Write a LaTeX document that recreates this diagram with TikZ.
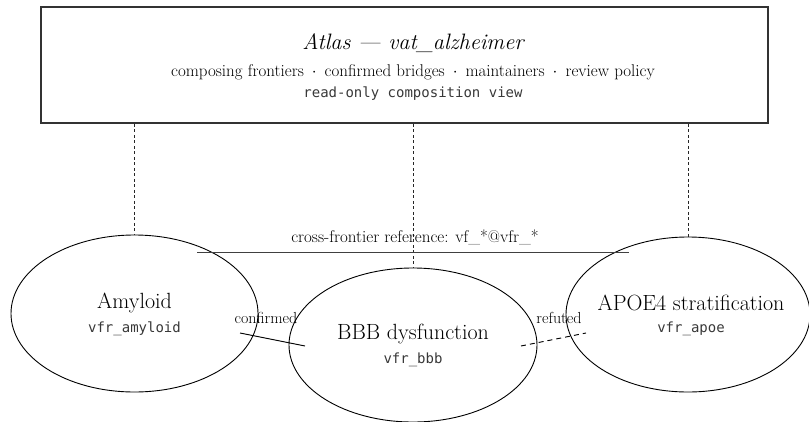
\documentclass[tikz,border=0pt]{standalone}
\usepackage{fontspec}
\setmonofont{DejaVu Sans Mono}
\usetikzlibrary{shapes.geometric}
\begin{document}
\begin{tikzpicture}[x=1pt,y=-1pt,
  frontier/.style={draw,ellipse,line width=0.9pt,inner sep=0pt},
  dashlink/.style={line width=0.7pt,dash pattern=on 3pt off 2.5pt,black!85},
  bridge/.style={line width=0.9pt},
  lbl/.style={font=\fontsize{16}{19}\selectfont,inner sep=0pt},
  ftitle/.style={inner sep=0pt,font=\fontsize{22}{26}\selectfont},
  code/.style={inner sep=0pt,font=\fontsize{14}{16}\ttfamily,text=black!78}]
\useasboundingbox (0,0) rectangle (809,421);
% header box
\node[draw=black!80,line width=1.6pt,minimum width=727pt,minimum height=116pt,inner sep=0pt] (atlas) at (404.5,65) {};
\node[inner sep=0pt,font=\fontsize{22.3}{26}\selectfont\itshape] (title) at (413,43) {Atlas --- vat\_alzheimer};
\node[inner sep=0pt,font=\fontsize{17}{20}\selectfont] (sub) at (413,72) {composing frontiers \,$\cdot$\, confirmed bridges \,$\cdot$\, maintainers \,$\cdot$\, review policy};
\node[code] (mode) at (413,94) {read-only composition view};
% frontiers
\node[frontier,minimum width=247pt,minimum height=157pt] (amy) at (134.5,313.5) {};
\node[frontier,minimum width=248pt,minimum height=154pt] (bbb) at (413,345) {};
\node[frontier,minimum width=244pt,minimum height=155pt] (apoe) at (688,314.5) {};
\node[ftitle] at (134.5,303) {Amyloid};
\node[code] at (134.5,329) {vfr\_amyloid};
\node[ftitle] at (413,334) {BBB dysfunction};
\node[code] at (413,360) {vfr\_bbb};
\node[ftitle] at (691,303) {APOE4 stratification};
\node[code] at (691,329) {vfr\_apoe};
% links from the header down to each frontier
\draw[dashlink] (atlas.south -| amy.north) -- (amy.north);
\draw[dashlink] (atlas.south -| bbb.north) -- (bbb.north);
\draw[dashlink] (atlas.south -| apoe.north) -- (apoe.north);
% cross-frontier reference
\coordinate (xl) at (197,252);
\coordinate (xr) at (629,252);
\draw[line width=1pt,black!75] (xl) -- (xr);
\node[lbl,font=\fontsize{17}{20}\selectfont] (xref) at (415,237) {cross-frontier reference: vf\_*@vfr\_*};
% bridges
\coordinate (c1) at (240,333);
\coordinate (c2) at (305,346);
\draw[bridge] (c1) -- (c2);
\node[lbl] at (266,318) {confirmed};
\coordinate (r1) at (521,346);
\coordinate (r2) at (586,333);
\draw[bridge,dash pattern=on 5pt off 4pt] (r1) -- (r2);
\node[lbl] at (559,318) {refuted};
\end{tikzpicture}
\end{document}
